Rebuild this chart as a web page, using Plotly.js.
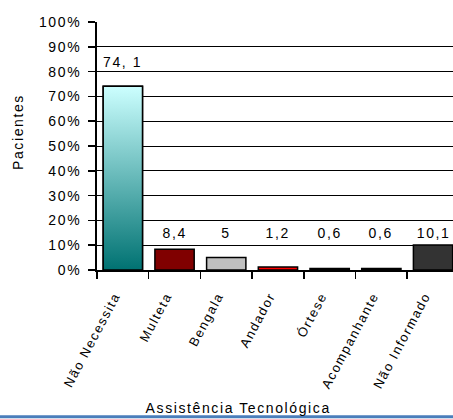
<!DOCTYPE html>
<html>
<head>
<meta charset="utf-8">
<script src="https://cdn.plot.ly/plotly-3.0.1.min.js"></script>
<style>
html,body{margin:0;padding:0;background:#fff;}
#chart{width:453px;height:419px;}
.main-svg text{letter-spacing:1.6px;}
</style>
</head>
<body>
<div id="chart"></div>
<script>
// Data
const categories = ["Não Necessita","Multeta","Bengala","Andador","Órtese","Acompanhante","Não Informado"];
const values = [74.1, 8.4, 5, 1.2, 0.6, 0.6, 10.1];
const valueLabels = ["74, 1","8,4","5","1,2","0,6","0,6","10,1"];
const barColors = ["#7fbfbf","#800000","#c0c0c0","#ff0000","#1d5e5e","#1d5e5e","#333333"];
const yTickVals = [0,0.1,0.2,0.3,0.4,0.5,0.6,0.7,0.8,0.9,1.0];

const FONT = "Liberation Sans, Arial, sans-serif";
const idx = categories.map((c,i)=>i);
const barW = 0.76;

const traces = [];
traces.push({
  type:'bar', x: idx, y: values.map(v=>v/100), width: barW,
  marker:{color: barColors, line:{color:'#000', width:1.5}},
  hoverinfo:'skip', showlegend:false
});
// gradient overlay for first bar
const gi = 0, gv = values[0]/100;
traces.push({
  type:'scatter', mode:'lines',
  x:[gi-barW/2, gi+barW/2, gi+barW/2, gi-barW/2, gi-barW/2],
  y:[0,0,gv,gv,0],
  fill:'toself',
  fillgradient:{type:'vertical', colorscale:[[0,'#007272'],[1,'#ccffff']]},
  line:{color:'#000', width:1.5},
  hoverinfo:'skip', showlegend:false
});
// invisible trace for label axis
traces.push({type:'scatter', mode:'markers', x: idx, y: idx.map(()=>0), xaxis:'x2',
  marker:{opacity:0}, hoverinfo:'skip', showlegend:false});

const xr = [-0.5, 6.386];
const annotations = values.map((v,i)=>({
  x:i, y:(v>50 ? v+9.8 : 14.9)/100, xref:'x', yref:'y',
  text: valueLabels[i], showarrow:false, xanchor:'center', yanchor:'middle',
  font:{family:FONT, size:14, color:'#000'}
}));
annotations.push({
  xref:'paper', yref:'paper', x:(238-97)/356, y:(270.5-409)/248.5,
  text:'Assistência Tecnológica', showarrow:false, xanchor:'center', yanchor:'middle',
  font:{family:FONT, size:14, color:'#000'}
});
annotations.push({
  xref:'paper', yref:'paper', x:(18-97)/356, y:(270.5-133)/248.5,
  text:'Pacientes', textangle:-90, showarrow:false, xanchor:'center', yanchor:'middle',
  font:{family:FONT, size:14, color:'#000'}
});

const layout = {
  width:453, height:419,
  margin:{l:97, r:0, t:22, b:148.5},
  paper_bgcolor:'#fff', plot_bgcolor:'#fff',
  showlegend:false,
  xaxis:{
    range:xr, tickmode:'array', tickvals: idx.concat([idx.length]).map(i=>i-0.5),
    showticklabels:false, ticks:'outside', ticklen:7, tickcolor:'#000', tickwidth:1.5,
    showline:true, linecolor:'#000', linewidth:2, showgrid:false, zeroline:false, fixedrange:true
  },
  xaxis2:{
    overlaying:'x', anchor:'y', side:'bottom', range:xr, matches:'x',
    tickmode:'array', tickvals: idx, ticktext: categories, tickangle:-62,
    ticks:'', showline:false, showgrid:false, zeroline:false,
    ticklabelstandoff:15, ticklabelshift:-8,
    tickfont:{family:FONT, size:13, color:'#000'}
  },
  yaxis:{
    range:[0,1], tickmode:'array', tickvals:yTickVals, tickformat:'.0%',
    ticks:'outside', ticklen:7, tickcolor:'#000', tickwidth:1.5,
    showline:true, linecolor:'#000', linewidth:2,
    showgrid:true, gridcolor:'#000', gridwidth:1, zeroline:false,
    ticklabelstandoff:4,
    tickfont:{family:FONT, size:14, color:'#000'}
  },
  annotations: annotations,
  shapes:[{
    type:'line', xref:'paper', yref:'paper',
    x0:-97/356, x1:1, y0:(270.5-417.5)/248.5, y1:(270.5-417.5)/248.5,
    line:{color:'#4a7ebb', width:3}
  }]
};

Plotly.newPlot('chart', traces, layout, {displayModeBar:false, staticPlot:true});
</script>
</body>
</html>
